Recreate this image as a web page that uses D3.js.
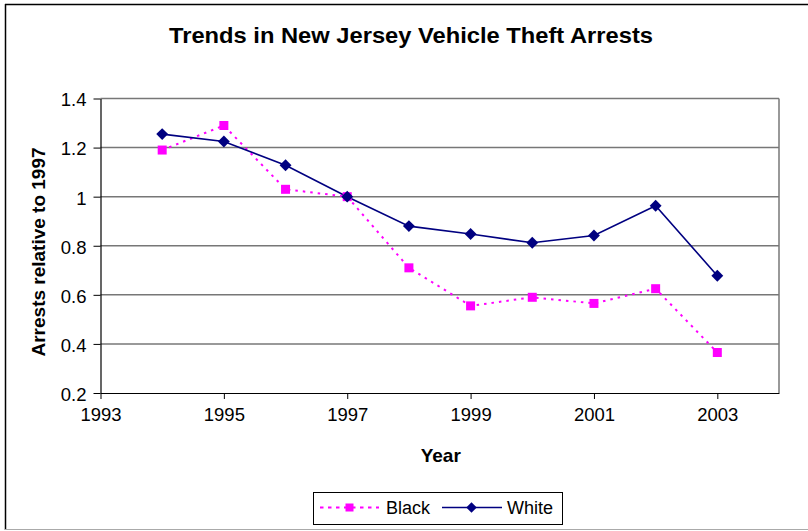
<!DOCTYPE html>
<html>
<head>
<meta charset="utf-8">
<script src="https://cdn.jsdelivr.net/npm/d3@7"></script>
<style>
  html, body { margin: 0; padding: 0; background: #fff; }
  svg { display: block; }
  text { font-family: "Liberation Sans", Arial, sans-serif; fill: #000; }
</style>
</head>
<body>
<svg id="chart" width="808" height="531"></svg>
<script>
// Arrests relative to 1997 levels, by year
const years = [1994, 1995, 1996, 1997, 1998, 1999, 2000, 2001, 2002, 2003];
const blackValues = [1.19, 1.29, 1.03, 1.00, 0.71, 0.555, 0.59, 0.565, 0.625, 0.365];
const whiteValues = [1.255, 1.225, 1.128, 1.00, 0.88, 0.848, 0.812, 0.842, 0.963, 0.678];
const xTicks = [1993, 1995, 1997, 1999, 2001, 2003];
const yTicks = [0.2, 0.4, 0.6, 0.8, 1.0, 1.2, 1.4];
const seriesNames = ["Black", "White"];

const svg = d3.select("#chart");

// Outer chart frame
svg.append("line").attr("x1", 5.5).attr("x2", 5.5).attr("y1", 4).attr("y2", 530)
  .attr("stroke", "#000").attr("stroke-width", 1.5);
svg.append("line").attr("x1", 5).attr("x2", 808).attr("y1", 4.5).attr("y2", 4.5)
  .attr("stroke", "#000").attr("stroke-width", 1.5);
svg.append("line").attr("x1", 5).attr("x2", 808).attr("y1", 529.5).attr("y2", 529.5)
  .attr("stroke", "#aaa").attr("stroke-width", 1);

const plot = { left: 100.5, right: 779, top: 98.5, bottom: 393 };

const x = d3.scaleLinear().domain([1993, 2004]).range([plot.left, plot.right]);
const y = d3.scaleLinear().domain([0.2, 1.4]).range([plot.bottom, plot.top]);

// Horizontal gridlines
svg.append("g")
  .selectAll("line")
  .data(yTicks.filter(v => v > 0.2))
  .join("line")
  .attr("x1", plot.left).attr("x2", plot.right)
  .attr("y1", d => y(d)).attr("y2", d => y(d))
  .attr("stroke", "#777").attr("stroke-width", 1.5);

// Plot area right border
svg.append("line")
  .attr("x1", plot.right).attr("x2", plot.right)
  .attr("y1", plot.top).attr("y2", plot.bottom)
  .attr("stroke", "#777").attr("stroke-width", 1.5);

// Axes
const xAxis = d3.axisBottom(x).tickValues(xTicks).tickFormat(d3.format("d"))
  .tickSize(6).tickSizeOuter(0).tickPadding(9);
const gx = svg.append("g").attr("transform", `translate(0,${plot.bottom})`).call(xAxis);
gx.select(".domain").attr("stroke", "#000").attr("stroke-width", 1.2);
gx.selectAll(".tick line").attr("stroke", "#000");
gx.selectAll(".tick text").attr("font-size", 18.5).attr("font-family", "Liberation Sans, Arial, sans-serif");

const yAxis = d3.axisLeft(y).tickValues(yTicks).tickFormat(d => d3.format("")(+d.toFixed(1)))
  .tickSize(7).tickSizeOuter(0).tickPadding(7);
const gy = svg.append("g").attr("transform", `translate(${plot.left},0)`).call(yAxis);
gy.select(".domain").attr("stroke", "#000").attr("stroke-width", 1.2);
gy.selectAll(".tick line").attr("stroke", "#000");
gy.selectAll(".tick text").attr("font-size", 18.5).attr("font-family", "Liberation Sans, Arial, sans-serif")
  .attr("dy", "0.4em");

// Title
svg.append("text")
  .attr("x", 411).attr("y", 43)
  .attr("text-anchor", "middle")
  .attr("font-size", 21.5).attr("font-weight", "bold")
  .attr("textLength", 484).attr("lengthAdjust", "spacingAndGlyphs")
  .text("Trends in New Jersey Vehicle Theft Arrests");

// Axis titles
svg.append("text")
  .attr("x", (plot.left + plot.right) / 2 + 1).attr("y", 462)
  .attr("text-anchor", "middle")
  .attr("font-size", 19).attr("font-weight", "bold")
  .text("Year");

svg.append("text")
  .attr("transform", "translate(45,252) rotate(-90)")
  .attr("text-anchor", "middle")
  .attr("font-size", 18.5).attr("font-weight", "bold")
  .attr("textLength", 209).attr("lengthAdjust", "spacingAndGlyphs")
  .text("Arrests relative to 1997");

// Series lines
const line = d3.line().x(d => x(d[0])).y(d => y(d[1]));
const blackPts = years.map((yr, i) => [yr, blackValues[i]]);
const whitePts = years.map((yr, i) => [yr, whiteValues[i]]);

const blackColor = "#ff00ff";
const whiteColor = "#000080";

svg.append("path").datum(blackPts).attr("d", line)
  .attr("fill", "none").attr("stroke", blackColor)
  .attr("stroke-width", 2).attr("stroke-dasharray", "2.5,5");

svg.append("path").datum(whitePts).attr("d", line)
  .attr("fill", "none").attr("stroke", whiteColor).attr("stroke-width", 1.6);

// Markers
const squareSize = 9;
svg.append("g").selectAll("rect").data(blackPts).join("rect")
  .attr("x", d => x(d[0]) - squareSize / 2).attr("y", d => y(d[1]) - squareSize / 2)
  .attr("width", squareSize).attr("height", squareSize)
  .attr("fill", blackColor);

const diamond = d3.symbol().type(d3.symbolDiamond2).size(90);
svg.append("g").selectAll("path").data(whitePts).join("path")
  .attr("transform", d => `translate(${x(d[0])},${y(d[1])})`)
  .attr("d", diamond)
  .attr("fill", whiteColor);

// Legend
const legend = svg.append("g");
legend.append("rect")
  .attr("x", 313.5).attr("y", 492.5).attr("width", 249).attr("height", 32)
  .attr("fill", "#fff").attr("stroke", "#000").attr("stroke-width", 1);

const legendY = 507.5;
legend.append("line").attr("x1", 320).attr("x2", 379).attr("y1", legendY).attr("y2", legendY)
  .attr("stroke", blackColor).attr("stroke-width", 2).attr("stroke-dasharray", "3.5,4.5");
legend.append("rect").attr("x", 349.5 - 4).attr("y", legendY - 4).attr("width", 8).attr("height", 8)
  .attr("fill", blackColor);
legend.append("text").attr("x", 386).attr("y", 513.5).attr("font-size", 18)
  .text(seriesNames[0]);

legend.append("line").attr("x1", 442).attr("x2", 502).attr("y1", legendY).attr("y2", legendY)
  .attr("stroke", whiteColor).attr("stroke-width", 1.6);
legend.append("path").attr("transform", `translate(471.5,${legendY})`)
  .attr("d", d3.symbol().type(d3.symbolDiamond2).size(70)).attr("fill", whiteColor);
legend.append("text").attr("x", 507).attr("y", 513.5).attr("font-size", 18)
  .text(seriesNames[1]);
</script>
</body>
</html>
